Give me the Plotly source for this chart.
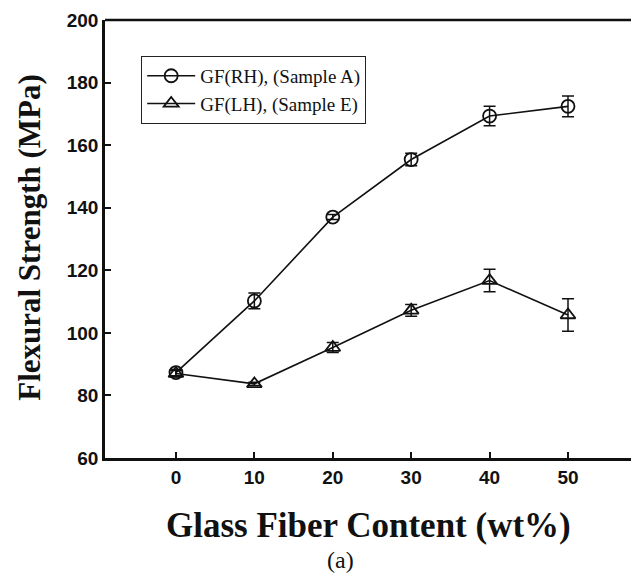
import plotly.graph_objects as go

x_vals = [0, 10, 20, 30, 40, 50]
sample_a = [87.3, 110.2, 137.0, 155.4, 169.3, 172.4]
sample_a_err = [1.0, 2.5, 0.8, 2.0, 3.1, 3.3]
sample_e = [87.0, 83.7, 95.3, 107.2, 116.7, 105.7]
sample_e_err = [1.0, 0.5, 1.6, 1.9, 3.6, 5.2]
x_ticks = [0, 10, 20, 30, 40, 50]
y_ticks = [60, 80, 100, 120, 140, 160, 180, 200]

names = ["GF(RH), (Sample A)", "GF(LH), (Sample E)"]

fig = go.Figure()
fig.add_trace(go.Scatter(
    x=x_vals, y=sample_a, name=names[0], mode="lines+markers",
    line=dict(color="#111", width=1.6),
    marker=dict(symbol="circle-open", size=13, color="#111", line=dict(width=1.8)),
    error_y=dict(type="data", array=sample_a_err, visible=True, color="#111", thickness=1.5, width=6),
))
fig.add_trace(go.Scatter(
    x=x_vals, y=sample_e, name=names[1], mode="lines+markers",
    line=dict(color="#111", width=1.6),
    marker=dict(symbol="triangle-up-open", size=13, color="#111", line=dict(width=1.8)),
    error_y=dict(type="data", array=sample_e_err, visible=True, color="#111", thickness=1.5, width=6),
))

tickfont = dict(family="Liberation Sans, Arial", size=19, color="#111", weight="bold")

fig.update_xaxes(
    range=[-9.05, 58.8], tickvals=x_ticks, ticks="inside", ticklen=6, tickwidth=2,
    tickcolor="#111", showline=True, linecolor="#111", linewidth=2.5, showgrid=False,
    zeroline=False, tickfont=tickfont,
)
fig.update_yaxes(
    range=[60, 200], tickvals=y_ticks, ticks="inside", ticklen=6, tickwidth=2,
    tickcolor="#111", showline=True, linecolor="#111", linewidth=2.5, showgrid=False,
    zeroline=False, tickfont=tickfont,
)

fig.add_shape(type="line", xref="paper", yref="paper", x0=0, x1=1, y0=1, y1=1,
              line=dict(color="#111", width=2.5))
fig.add_shape(type="line", xref="paper", yref="paper", x0=1, x1=1, y0=0, y1=1,
              line=dict(color="#111", width=1))

serif = "Liberation Serif, Times New Roman"
fig.add_annotation(text="Glass Fiber Content (wt%)", xref="paper", yref="paper",
                   x=0.495, y=-0.153, showarrow=False,
                   font=dict(family=serif, size=35, color="#111", weight="bold"),
                   xanchor="center", yanchor="middle")
fig.add_annotation(text="Flexural Strength (MPa)", xref="paper", yref="paper",
                   x=-0.141, y=0.505, showarrow=False,
                   font=dict(family=serif, size=31, color="#111", weight="bold"),
                   textangle=-90, xanchor="center", yanchor="middle")
fig.add_annotation(text="(a)", xref="paper", yref="paper",
                   x=0.442, y=-0.233, showarrow=False,
                   font=dict(family=serif, size=24, color="#111"),
                   xanchor="center", yanchor="middle")

fig.update_layout(
    width=631, height=570,
    margin=dict(l=97, r=2, t=12, b=120),
    plot_bgcolor="white", paper_bgcolor="white",
    showlegend=True,
    legend=dict(
        x=0.068, y=0.918, xanchor="left", yanchor="top",
        bordercolor="#222", borderwidth=1, bgcolor="white",
        font=dict(family=serif, size=19, color="#111"),
        tracegroupgap=0, itemwidth=48,
    ),
)

fig.write_html("out.html")
